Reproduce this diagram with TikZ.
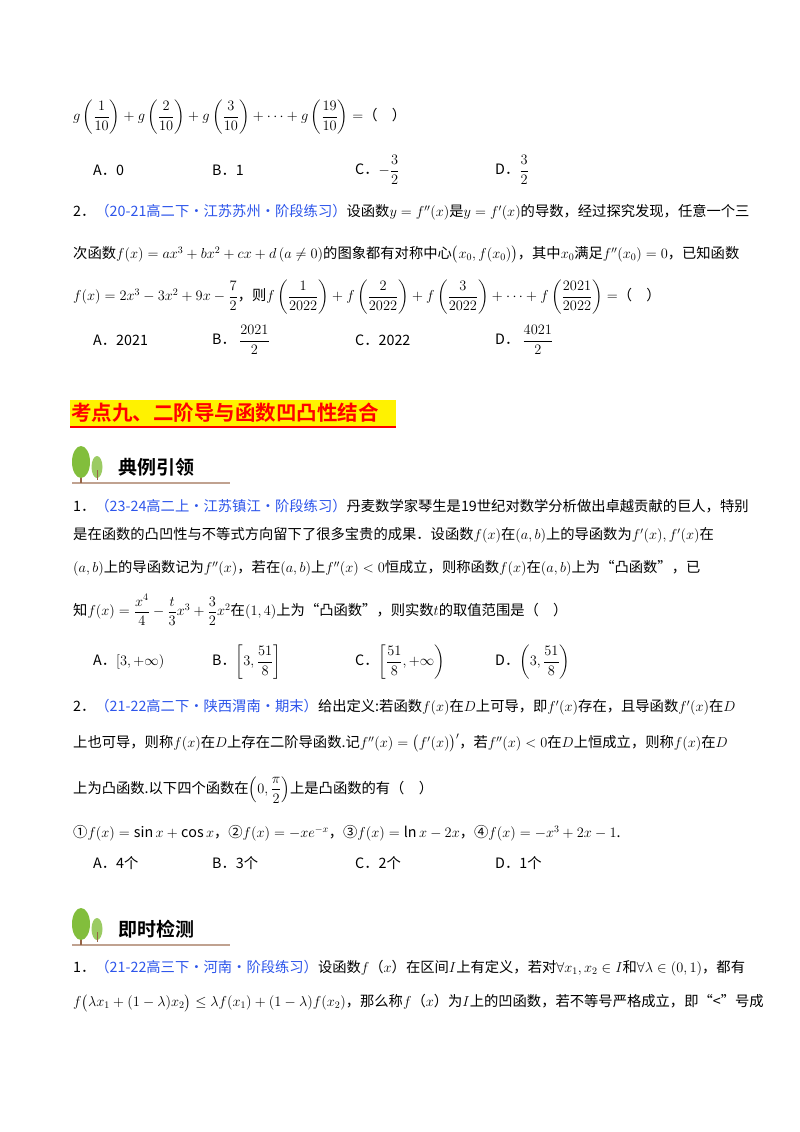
\documentclass[tikz,border=0pt]{standalone}
\usepackage{amsmath,amssymb}
\usepackage{fontspec}
\setmainfont{Noto Sans CJK SC}
\newfontfamily\cjkb{Noto Sans CJK SC Bold}
\definecolor{srcblue}{RGB}{45,85,235}
\definecolor{leafg}{RGB}{130,190,60}
\definecolor{trunk}{RGB}{150,100,70}
\begin{document}
\begin{tikzpicture}[x=1pt,y=-1pt,
  txt/.style={anchor=west,inner sep=0pt,font=\fontsize{14.3}{17}\selectfont},
  src/.style={text=srcblue}]
\useasboundingbox (0,0) rectangle (800,1132);
\fill[white] (0,0) rectangle (800,1132);
% --- top part
\node[txt] (l1) at (73,117) {$g\left(\dfrac{1}{10}\right)+g\left(\dfrac{2}{10}\right)+g\left(\dfrac{3}{10}\right)+\cdots+g\left(\dfrac{19}{10}\right)=$（\quad）};
\node[txt] (o1a) at (93,170) {A．0};
\node[txt] (o1b) at (212,170) {B．1};
\node[txt] (o1c) at (355,170) {C．$-\dfrac{3}{2}$};
\node[txt] (o1d) at (495,170) {D．$\dfrac{3}{2}$};
\node[txt] (p2a) at (73,212) {2．\textcolor{srcblue}{（20-21高二下·江苏苏州·阶段练习）}设函数$y=f''(x)$是$y=f'(x)$的导数，经过探究发现，任意一个三};
\node[txt] (p2b) at (73,255) {次函数$f(x)=ax^3+bx^2+cx+d\,(a\neq0)$的图象都有对称中心$\bigl(x_0,f(x_0)\bigr)$，其中$x_0$满足$f''(x_0)=0$，已知函数};
\node[txt] (p2c) at (73,297) {$f(x)=2x^3-3x^2+9x-\dfrac{7}{2}$，则$f\left(\dfrac{1}{2022}\right)+f\left(\dfrac{2}{2022}\right)+f\left(\dfrac{3}{2022}\right)+\cdots+f\left(\dfrac{2021}{2022}\right)=$（\quad）};
\node[txt] (o2a) at (93,340) {A．2021};
\node[txt] (o2b) at (212,340) {B．\ $\dfrac{2021}{2}$};
\node[txt] (o2c) at (355,340) {C．2022};
\node[txt] (o2d) at (495,340) {D．\ $\dfrac{4021}{2}$};
% --- heading
\fill[yellow] (70,400) rectangle (396,427);
\draw[red,line width=1.2pt] (70,427) -- (396,427);
\node[anchor=west,inner sep=0pt,text=red,font=\cjkb\fontsize{20.5}{22}\selectfont] (head) at (71,413) {考点九、二阶导与函数凹凸性结合};
% --- icon 1
\fill[trunk!60] (72,482) rectangle (230,484);
\fill[trunk] (80,463) rectangle (82,483);
\fill[leafg] (81,462) ellipse (9 and 16);
\fill[leafg!80] (97,467) ellipse (5.5 and 11);
\fill[trunk] (96.5,470) rectangle (97.5,480);
\node[anchor=west,inner sep=0pt,font=\cjkb\fontsize{19}{21}\selectfont] (h1) at (118,467) {典例引领};
% --- example 1
\node[txt] (e1a) at (73,506) {1．\textcolor{srcblue}{（23-24高二上·江苏镇江·阶段练习）}丹麦数学家琴生是19世纪对数学分析做出卓越贡献的巨人，特别};
\node[txt] (e1b) at (73,535) {是在函数的凸凹性与不等式方向留下了很多宝贵的成果．设函数$f(x)$在$(a,b)$上的导函数为$f'(x),f'(x)$在};
\node[txt] (e1c) at (73,568) {$(a,b)$上的导函数记为$f''(x)$，若在$(a,b)$上$f''(x)<0$恒成立，则称函数$f(x)$在$(a,b)$上为“凸函数”，已};
\node[txt] (e1d) at (73,610) {知$f(x)=\dfrac{x^4}{4}-\dfrac{t}{3}x^3+\dfrac{3}{2}x^2$在$(1,4)$上为“凸函数”，则实数$t$的取值范围是（\quad）};
\node[txt] (o3a) at (93,662) {A．$[3,+\infty)$};
\node[txt] (o3b) at (212,662) {B．$\left[3,\dfrac{51}{8}\right]$};
\node[txt] (o3c) at (355,662) {C．$\left[\dfrac{51}{8},+\infty\right)$};
\node[txt] (o3d) at (495,662) {D．$\left(3,\dfrac{51}{8}\right)$};
% --- example 2
\node[txt] (e2a) at (73,707) {2．\textcolor{srcblue}{（21-22高二下·陕西渭南·期末）}给出定义:若函数$f(x)$在$D$上可导，即$f'(x)$存在，且导函数$f'(x)$在$D$};
\node[txt] (e2b) at (73,743) {上也可导，则称$f(x)$在$D$上存在二阶导函数.记$f''(x)=\bigl(f'(x)\bigr)'$，若$f''(x)<0$在$D$上恒成立，则称$f(x)$在$D$};
\node[txt] (e2c) at (73,790) {上为凸函数.以下四个函数在$\left(0,\dfrac{\pi}{2}\right)$上是凸函数的有（\quad）};
\node[txt] (e2d) at (73,833) {①$f(x)=\sin x+\cos x$，②$f(x)=-xe^{-x}$，③$f(x)=\ln x-2x$，④$f(x)=-x^3+2x-1$.};
\node[txt] (o4a) at (93,863) {A．4个};
\node[txt] (o4b) at (212,863) {B．3个};
\node[txt] (o4c) at (355,863) {C．2个};
\node[txt] (o4d) at (495,863) {D．1个};
% --- icon 2
\fill[trunk!60] (72,944) rectangle (230,946);
\fill[trunk] (80,925) rectangle (82,945);
\fill[leafg] (81,924) ellipse (9 and 16);
\fill[leafg!80] (97,929) ellipse (5.5 and 11);
\fill[trunk] (96.5,932) rectangle (97.5,942);
\node[anchor=west,inner sep=0pt,font=\cjkb\fontsize{19}{21}\selectfont] (h2) at (118,929) {即时检测};
% --- test 1
\node[txt] (t1a) at (73,968) {1．\textcolor{srcblue}{（21-22高三下·河南·阶段练习）}设函数$f$（$x$）在区间$I$上有定义，若对$\forall x_1,x_2\in I$和$\forall\lambda\in(0,1)$，都有};
\node[txt] (t1b) at (73,1003) {$f\bigl(\lambda x_1+(1-\lambda)x_2\bigr)\le\lambda f(x_1)+(1-\lambda)f(x_2)$，那么称$f$（$x$）为$I$上的凹函数，若不等号严格成立，即“<”号成};
\end{tikzpicture}
\end{document}
